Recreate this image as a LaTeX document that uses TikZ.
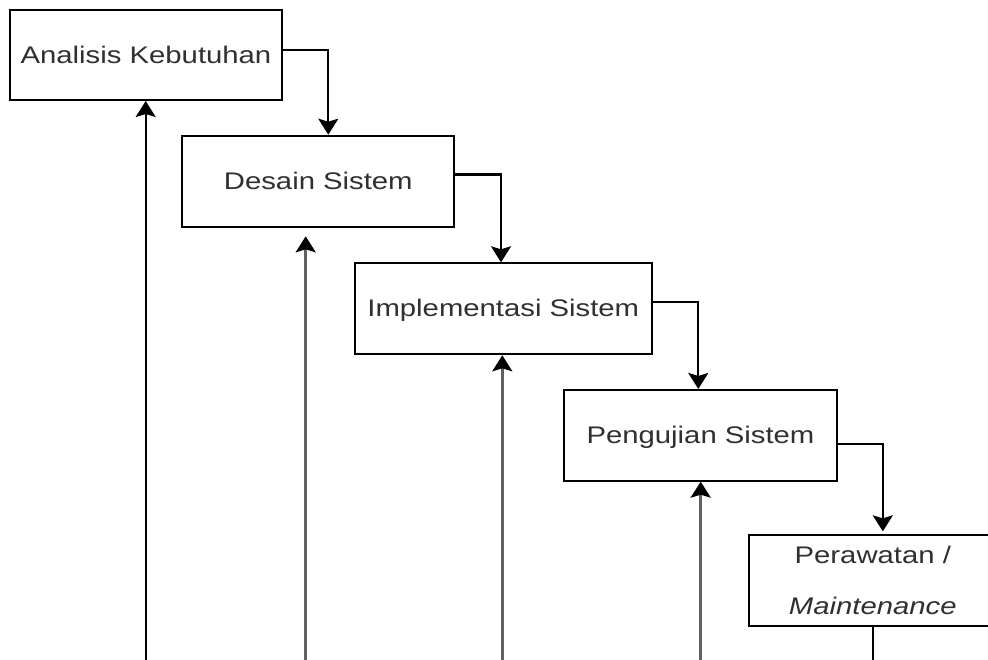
\documentclass[tikz,border=0pt]{standalone}
\usepackage{fontspec}
\usetikzlibrary{arrows.meta}
\newfontfamily\boxfont[FakeStretch=1.22]{Liberation Sans}
\definecolor{txtgray}{RGB}{48,48,48}
\tikzset{
  box/.style={draw=black, line width=2pt, fill=white, inner sep=0pt,
    font=\boxfont\fontsize{24}{51.3}\selectfont, text=txtgray},
  conn/.style={line width=2.1pt, draw=black, -{Stealth[length=16pt, width=20pt, inset=3pt, color=black]}},
  upconn/.style={conn, line width=2.6pt, draw=black!62},
  plain/.style={line width=2.1pt, draw=black}
}
\begin{document}
\begin{tikzpicture}[x=1pt, y=-1pt]
\clip (0,0) rectangle (988,659);
\fill[white] (0,0) rectangle (988,659);

\node[box, minimum width=272pt, minimum height=90pt, text height=17pt, text depth=1pt] (b1) at (146,55) {Analisis Kebutuhan};
\node[box, minimum width=272pt, minimum height=91.6pt, text height=17pt, text depth=1pt] (b2) at (318.3,181.5) {Desain Sistem};
\node[box, minimum width=296.7pt, minimum height=91pt, text height=17pt, text depth=1pt] (b3) at (503.3,308.8) {Implementasi Sistem};
\node[box, minimum width=272.4pt, minimum height=90.7pt, text height=17pt, text depth=1pt] (b4) at (700.5,435.3) {Pengujian Sistem};
\node[box, minimum width=247pt, minimum height=90.7pt, align=center] (b5) at (872.8,580.7) {Perawatan /\\\textit{Maintenance}};

% forward connectors
\draw[conn] ([yshift=5pt]b1.east) -| ([xshift=10pt]b2.north);
\draw[conn] ([yshift=7pt]b2.east) -| ([xshift=-2.3pt]b3.north);
\draw[conn] ([yshift=7pt]b3.east) -| ([xshift=-2.2pt]b4.north);
\draw[conn] ([yshift=-9pt]b4.east) -| ([xshift=10pt, yshift=3pt]b5.north);

% feedback arrows from bottom
\coordinate (u1) at (145.7,662);
\coordinate (u2) at (305.7,662);
\coordinate (u3) at (502.3,662);
\coordinate (u4) at (700.7,662);
\coordinate (d5) at (872.8,662);
\draw[conn] (u1) -- (u1 |- b1.south);
\draw[upconn] (u2) -- ([yshift=-8pt]u2 |- b2.south);
\draw[upconn] (u3) -- (u3 |- b3.south);
\draw[upconn] (u4) -- (u4 |- b4.south);
\draw[plain] (b5.south) -- (d5);
\end{tikzpicture}
\end{document}
